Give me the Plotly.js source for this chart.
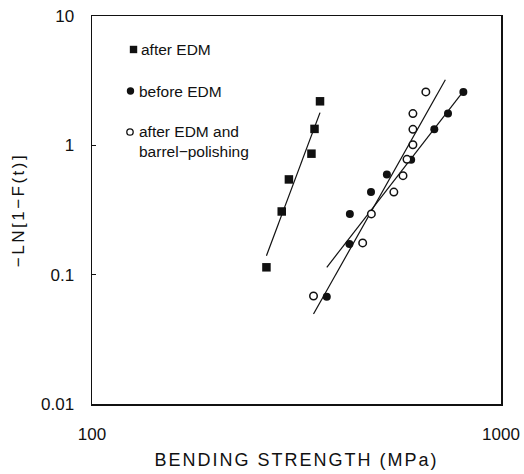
<!DOCTYPE html>
<html>
<head>
<meta charset="utf-8">
<script src="https://cdn.plot.ly/plotly-3.0.1.min.js"></script>
<style>
html,body{margin:0;padding:0;background:#fff;}
#chart{width:524px;height:474px;}
.xtitle{letter-spacing:2px;}
.ytitle{letter-spacing:2.5px;}
</style>
</head>
<body>
<div id="chart"></div>
<script>
// Series: after EDM (squares)
const afterEdmX = [267, 291, 303, 344, 350, 361];
const afterEdmY = [0.114, 0.308, 0.545, 0.862, 1.34, 2.19];
// Series: before EDM (filled circles)
const beforeEdmX = [375, 426, 427, 481, 526, 603, 687, 742, 809];
const beforeEdmY = [0.0675, 0.173, 0.295, 0.435, 0.596, 0.774, 1.33, 1.76, 2.59];
// Series: after EDM and barrel-polishing (open circles)
const polishedX = [348, 459, 482, 547, 576, 589, 609, 609, 609, 655];
const polishedY = [0.0684, 0.176, 0.295, 0.435, 0.583, 0.779, 1.01, 1.33, 1.76, 2.59];
// Fitted Weibull lines (end points)
const fitAfterX = [267, 361];
const fitAfterY = [0.140, 1.79];
const fitBeforeX = [375, 800];
const fitBeforeY = [0.114, 2.5];
const fitPolishedX = [348, 731];
const fitPolishedY = [0.0496, 3.21];
// Tick labels
const xTickVals = [100, 1000];
const xTickText = ['100', '1000'];
const yTickVals = [0.01, 0.1, 1, 10];
const yTickText = ['0.01', '0.1', '1', '10'];
// Legend labels
const legendLabels = ['after EDM', 'before EDM', 'after EDM and<br>barrel\u2212polishing'];

const FONT = 'Liberation Sans, Arial, Helvetica, sans-serif';
const INK = '#111';
const lineStyle = {color: INK, width: 1.2};

const traces = [
  {x: fitAfterX, y: fitAfterY, mode: 'lines', line: lineStyle, hoverinfo: 'skip', showlegend: false},
  {x: fitBeforeX, y: fitBeforeY, mode: 'lines', line: lineStyle, hoverinfo: 'skip', showlegend: false},
  {x: fitPolishedX, y: fitPolishedY, mode: 'lines', line: lineStyle, hoverinfo: 'skip', showlegend: false},
  {x: afterEdmX, y: afterEdmY, mode: 'markers', name: legendLabels[0], showlegend: false,
   marker: {symbol: 'square', size: 8.5, color: INK}},
  {x: beforeEdmX, y: beforeEdmY, mode: 'markers', name: legendLabels[1], showlegend: false,
   marker: {symbol: 'circle', size: 8, color: INK}},
  {x: polishedX, y: polishedY, mode: 'markers', name: 'after EDM and barrel-polishing', showlegend: false,
   marker: {symbol: 'circle', size: 7.5, color: '#fff', line: {color: INK, width: 1.5}}}
];

const layout = {
  width: 524, height: 474,
  margin: {l: 92, r: 23, t: 16, b: 70, pad: 0},
  paper_bgcolor: '#fff', plot_bgcolor: '#fff',
  font: {family: FONT, color: INK, size: 17},
  showlegend: false,
  xaxis: {
    type: 'log', range: [2, 3],
    tickvals: xTickVals, ticktext: xTickText,
    showgrid: false, zeroline: false,
    showline: true, mirror: true, linecolor: INK, linewidth: 1.5,
    ticks: 'inside', ticklen: 4, tickcolor: INK,
    tickfont: {family: FONT, size: 17, color: INK},
    ticklabelstandoff: 14,
    title: {text: 'BENDING STRENGTH (MPa)', font: {family: FONT, size: 18, color: INK}, standoff: 10}
  },
  yaxis: {
    type: 'log', range: [-2, 1],
    tickvals: yTickVals, ticktext: yTickText,
    showgrid: false, zeroline: false,
    showline: true, mirror: true, linecolor: INK, linewidth: 1.5,
    ticks: 'inside', ticklen: 4, tickcolor: INK,
    tickfont: {family: FONT, size: 17, color: INK},
    ticklabelstandoff: 13,
    title: {text: '\u2212LN[1\u2212F(t)]', font: {family: FONT, size: 17, color: INK}, standoff: 12}
  },
  shapes: [
    {type: 'rect', xref: 'paper', yref: 'paper', xsizemode: 'pixel', ysizemode: 'pixel',
     xanchor: 0.1015, yanchor: 0.9137, x0: -3.7, x1: 3.7, y0: -3.7, y1: 3.7,
     fillcolor: INK, line: {width: 0}},
    {type: 'circle', xref: 'paper', yref: 'paper', xsizemode: 'pixel', ysizemode: 'pixel',
     xanchor: 0.0941, yanchor: 0.8067, x0: -3.7, x1: 3.7, y0: -3.7, y1: 3.7,
     fillcolor: INK, line: {width: 0}},
    {type: 'circle', xref: 'paper', yref: 'paper', xsizemode: 'pixel', ysizemode: 'pixel',
     xanchor: 0.0929, yanchor: 0.701, x0: -3.2, x1: 3.2, y0: -3.2, y1: 3.2,
     fillcolor: '#fff', line: {color: INK, width: 1.3}}
  ],
  annotations: [
    {xref: 'paper', yref: 'paper', x: 0.1150, y: 0.9137, xanchor: 'left', yanchor: 'middle',
     text: legendLabels[0], showarrow: false, font: {family: FONT, size: 15.5, color: INK}},
    {xref: 'paper', yref: 'paper', x: 0.1100, y: 0.8067, xanchor: 'left', yanchor: 'middle',
     text: legendLabels[1], showarrow: false, font: {family: FONT, size: 15.5, color: INK}},
    {xref: 'paper', yref: 'paper', x: 0.1100, y: 0.6765, xanchor: 'left', yanchor: 'middle', align: 'left',
     text: legendLabels[2], showarrow: false, font: {family: FONT, size: 15.5, color: INK}}
  ]
};

Plotly.newPlot('chart', traces, layout, {staticPlot: true, displayModeBar: false});
</script>
</body>
</html>
